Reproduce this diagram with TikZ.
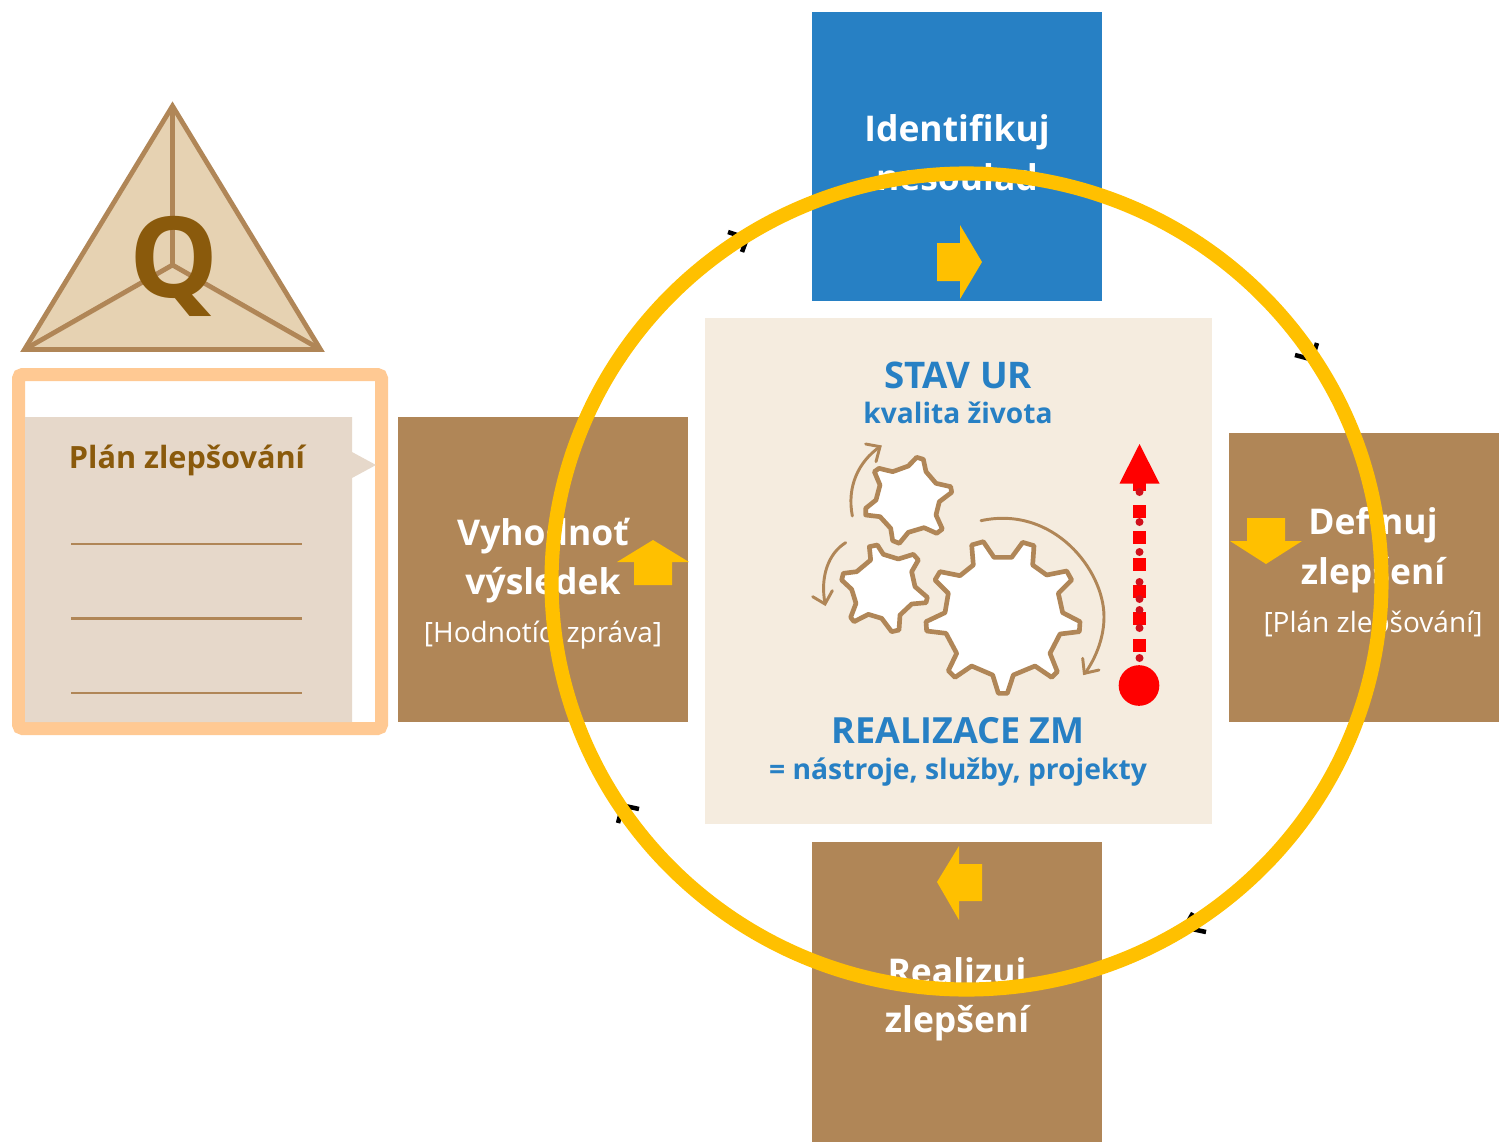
\documentclass[tikz,border=0pt]{standalone}
\usepackage{fontspec}
\setmainfont{Open Sans}
\definecolor{tan}{HTML}{B08657}
\definecolor{bluebox}{HTML}{2780C4}
\definecolor{sand}{HTML}{F5ECDF}
\definecolor{gold}{HTML}{FFC000}
\definecolor{qbrown}{HTML}{8A5A0C}
\definecolor{trifill}{HTML}{E6D2B2}
\definecolor{docfill}{HTML}{E6D8CA}
\definecolor{frame}{HTML}{FFC993}
\definecolor{dotred}{HTML}{D0101C}
\tikzset{
  stepbox/.style={fill=#1,draw=none,inner sep=0pt,outer sep=0pt,anchor=north west},
  head/.style={text=white,font=\bfseries\fontsize{26.6}{30}\selectfont,anchor=base,inner sep=0pt},
  subhead/.style={text=white,font=\fontsize{21}{25}\selectfont,anchor=base,inner sep=0pt},
  bluetext/.style={text=bluebox,font=\bfseries\fontsize{#1}{30}\selectfont,anchor=base,inner sep=0pt},
  goldarrow/.style={fill=gold,draw=none},
  tick/.style={draw=black,line width=3.4pt},
  gear/.style={draw=tan,fill=white,line width=3.5pt,line join=round},
  turn/.style={draw=tan,line width=2.2pt,line cap=round,line join=miter},
  rule/.style={draw=tan,line width=1.8pt},
}
\begin{document}
\begin{tikzpicture}[x=0.75pt,y=-0.75pt]
\useasboundingbox (0,0) rectangle (1499,1142);
% process boxes
\node[stepbox=bluebox,minimum width=217.5pt,minimum height=216.75pt] (identify) at (812,12) {};
\node[stepbox=tan,minimum width=202.5pt,minimum height=216.75pt] (define) at (1229,433) {};
\node[stepbox=tan,minimum width=217.5pt,minimum height=228.75pt] (evaluate) at (398,417) {};
\node[stepbox=tan,minimum width=217.5pt,minimum height=225pt] (realize) at (812,842) {};
\node[stepbox=sand,minimum width=380pt,minimum height=379.5pt] (centre) at (705,318) {};
% box texts
\node[head] (t1) at (957,141.5) {Identifikuj};
\node[head] (t2) at (957,190) {nesoulad};
\node[head] (t3) at (1373,534.5) {Definuj};
\node[head] (t4) at (1373,584) {zlepšení};
\node[subhead] (t5) at (1373,632) {[Plán zlepšování]};
\node[head] (t6) at (543,545.5) {Vyhodnoť};
\node[head] (t7) at (543,594) {výsledek};
\node[subhead] (t8) at (543,642) {[Hodnotící zpráva]};
\node[head] (t9) at (957,984) {Realizuj};
\node[head] (t10) at (957,1032.5) {zlepšení};
% centre texts
\node[bluetext=27.5] (c1) at (958,388) {STAV UR};
\node[bluetext=21.1] (c2) at (958,423) {kvalita života};
\node[bluetext=27] (c3) at (958,743.5) {REALIZACE ZM};
\node[bluetext=21.2] (c4) at (958,779) {= nástroje, služby, projekty};
% gears
\begin{scope}[shift={(800,430)},x=0.25pt,y=-0.25pt]
\draw[gear] (515,345)--(550,335)--(582,382)--(635,382)--(668,337)--(702,347)--(698,405)--(740,435)--(800,423)--(815,450)--(775,490)--(788,548)--(840,575)--(838,605)--(780,612)--(750,670)--(772,725)--(755,742)--(705,708)--(640,735)--(622,790)--(595,790)--(578,735)--(515,708)--(465,742)--(445,722)--(470,670)--(438,610)--(380,603)--(378,575)--(435,548)--(445,490)--(405,450)--(420,425)--(480,437)--(520,405)--cycle;
\draw[gear] (237,115)--(278,125)--(325,108)--(350,82)--(370,88)--(378,125)--(408,160)--(452,170)--(455,187)--(418,215)--(408,255)--(427,297)--(410,310)--(372,293)--(325,307)--(298,340)--(278,332)--(272,295)--(240,260)--(197,255)--(197,235)--(228,210)--(240,165)--(223,125)--cycle;
\draw[gear] (208,350)--(232,345)--(250,373)--(295,387)--(340,373)--(355,390)--(335,425)--(345,470)--(382,502)--(378,518)--(335,522)--(300,555)--(297,600)--(275,605)--(245,565)--(205,553)--(162,575)--(152,562)--(168,520)--(155,478)--(125,450)--(130,430)--(170,425)--(212,390)--cycle;
\draw[turn] (157,258) .. controls (140,170) and (175,95) .. (240,50);
\draw[turn] (197,42)--(240,50)--(228,95);
\draw[turn] (137,338) .. controls (85,370) and (60,440) .. (75,520);
\draw[turn] (38,500)--(75,522)--(97,482);
\draw[turn] (543,272) .. controls (760,225) and (912,420) .. (912,560) .. controls (912,620) and (890,680) .. (855,730);
\draw[turn] (848,685)--(853,730)--(897,720);
\end{scope}
% red indicator
\node[circle,fill=red,minimum size=30.5pt,inner sep=0pt] (start) at (1139,685.5) {};
\coordinate (tip) at (1139.5,444);
\fill[red] (tip) -- (1159.5,483.5) -- (1119.5,483.5) -- cycle;
\fill[red] (1133,483) rectangle (1146,491);
\foreach \y in {511,537.5,564.5,591.5,618.5,645.5}{\fill[red] (1132.5,\y-6.5) rectangle (1145.5,\y+6.5);}
\foreach \y in {492,522,552,582,599,610,628,658}{\fill[dotred] (1139.5,\y) circle[radius=3pt];}
% black ticks under the ring
\draw[tick] (728,232)--(740,236) (742,252)--(746,241);
\draw[tick] (1295,355)--(1310,359) (1317,343)--(1313,356);
\draw[tick] (639,809)--(625,806) (618,823)--(621,812);
\draw[tick] (1206,932)--(1192,929) (1193,913)--(1189,920);
\draw[gray,line width=.7pt] (625,361)--(628,355);
% ring
\draw[gold,line width=10.6pt] (966.5,581.5) ellipse [x radius=415,y radius=408];
% gold arrows
\fill[goldarrow] (937,243)--(960,243)--(960,225)--(982,262)--(960,299)--(960,281)--(937,281)--cycle;
\fill[goldarrow] (1247,518)--(1285,518)--(1285,541)--(1302,541)--(1266,564)--(1230,541)--(1247,541)--cycle;
\fill[goldarrow] (634,585)--(672,585)--(672,562)--(689,562)--(653,540)--(617,562)--(634,562)--cycle;
\fill[goldarrow] (982,864)--(959,864)--(959,846)--(937,882)--(959,920)--(959,901)--(982,901)--cycle;
% triangle
\draw[tan,fill=trifill,line width=3.6pt,line join=miter] (172.5,106)--(320.5,349.5)--(24.5,349.5)--cycle;
\coordinate (apex) at (172.5,106);
\coordinate (hub) at (172.5,265);
\draw[tan,line width=3.6pt] (apex)--(hub) (hub)--(24.5,349.5) (hub)--(320.5,349.5);
\node[text=qbrown,font=\bfseries\fontsize{84}{90}\selectfont,anchor=base,inner sep=0pt] (q) at (174,297) {Q};
% document panel
\draw[frame,fill=white,line width=9.75pt,rounded corners=3pt] (18.5,374.5) rectangle (381.5,728.5);
\fill[docfill] (25,417)--(352,417)--(352,452)--(376,465)--(352,478)--(352,722)--(25,722)--cycle;
\node[text=qbrown,font=\bfseries\fontsize{23}{26}\selectfont,anchor=base,inner sep=0pt] (plan) at (187,468) {Plán zlepšování};
\draw[rule] (71,544)--(302,544) (71,618.5)--(302,618.5) (71,693)--(302,693);
\end{tikzpicture}
\end{document}
